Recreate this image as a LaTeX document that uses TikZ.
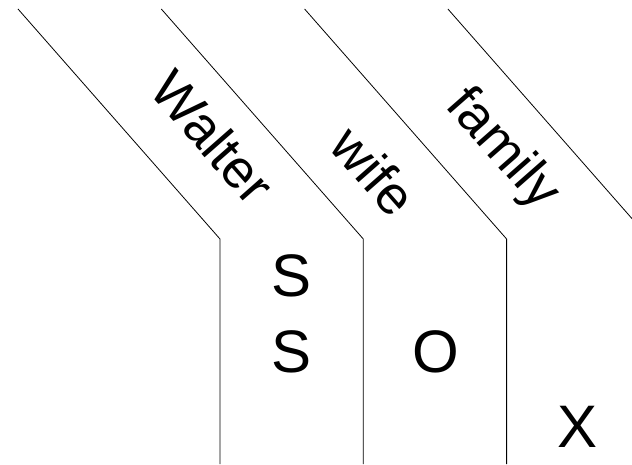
\documentclass[tikz,border=0pt]{standalone}
\usepackage{fontspec}
\setmainfont{Liberation Sans}
\tikzset{word/.style={font=\fontsize{60}{72}\selectfont, inner sep=0pt},
  slanted word/.style={word, font=\fontsize{54}{64}\selectfont, rotate=-48.7}}

\begin{document}
\begin{tikzpicture}[x=1pt,y=1pt]
\useasboundingbox (0,0) rectangle (632,464);
\clip (0,0) rectangle (632,464);

\foreach \x in {0,143.3,286.6,429.9}
  \draw[line width=0.8pt] (18+\x,455) -- (220+\x,225) -- (220+\x,0);

\node[slanted word] (walter) at (213,327) {Walter};
\node[slanted word] (wife) at (374,293) {wife};
\node[slanted word] (family) at (502,314) {family};

\node[word] (s1) at (292,188) {S};
\node[word] (s2) at (292,112) {S};
\node[word] (o) at (436,112) {O};
\node[word] (x) at (578,37) {X};

\end{tikzpicture}
\end{document}
